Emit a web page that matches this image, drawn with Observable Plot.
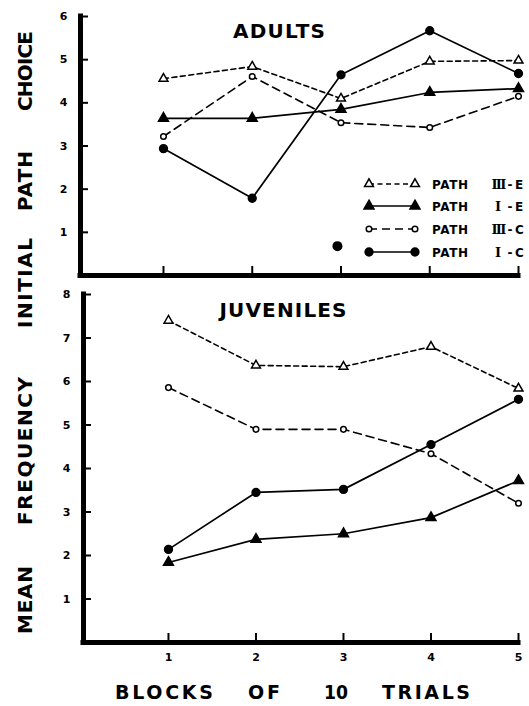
<!DOCTYPE html>
<html><head><meta charset="utf-8">
<script src="https://cdn.jsdelivr.net/npm/d3@7"></script>
<script src="https://cdn.jsdelivr.net/npm/@observablehq/plot@0.6"></script>
<style>
html,body{margin:0;padding:0;background:#fff;}
#wrap{position:relative;width:529px;height:706px;overflow:hidden;font-family:"DejaVu Sans",Arial,sans-serif;}
#wrap > svg, #wrap > figure{position:absolute;left:0;margin:0;}
</style></head><body><div id="wrap"></div>
<script>
// ---------- data ----------
const blocks = [1, 2, 3, 4, 5];
const seriesKeys = ["IIIE", "IE", "IIIC", "IC"];
const seriesNumeral = ["III", "I", "III", "I"];
const seriesLetter = ["E", "E", "C", "C"];

const adultsIIIE = [4.56, 4.84, 4.10, 4.96, 4.98];
const adultsIE   = [3.64, 3.64, 3.85, 4.24, 4.33];
const adultsIIIC = [3.22, 4.61, 3.54, 3.43, 4.15];
const adultsIC   = [2.94, 1.79, 4.65, 5.67, 4.68];

const juvIIIE = [7.40, 6.37, 6.34, 6.80, 5.84];
const juvIE   = [1.84, 2.37, 2.50, 2.87, 3.72];
const juvIIIC = [5.86, 4.90, 4.90, 4.34, 3.20];
const juvIC   = [2.14, 3.45, 3.52, 4.55, 5.59];

const adultsYTicks = [1, 2, 3, 4, 5, 6];
const juvYTicks = [1, 2, 3, 4, 5, 6, 7, 8];
const inkSpotBlock = [2.96];
const inkSpotValue = [0.68];

const panelTitles = ["ADULTS", "JUVENILES"];
const yTitleWords = ["CHOICE", "PATH", "INITIAL", "FREQUENCY", "MEAN"];
const xTitleWords = ["BLOCKS", "OF", "10", "TRIALS"];

// ---------- styles ----------
const styles = {
  IIIE: {symbol: "triangle", r: 3.3, fill: "white", dash: "5,3.5", sw: 1.6},
  IE:   {symbol: "triangle", r: 3.7, fill: "black", dash: null, sw: 1.7},
  IIIC: {symbol: "circle",   r: 2.8, fill: "white", dash: "8,5", sw: 1.6},
  IC:   {symbol: "circle",   r: 3.9, fill: "black", dash: null, sw: 1.7}
};
const FONT = "DejaVu Sans, Arial, sans-serif";

function panel({series, yMax, yTicks, x0, marginLeft, top, height, marginTop, marginBottom, xLabels, extra = []}) {
  const marks = [];
  seriesKeys.forEach((k, si) => {
    const rows = blocks.map((b, i) => ({block: b, value: series[si][i]}));
    const s = styles[k];
    marks.push(Plot.line(rows, {x: "block", y: "value", stroke: "black", strokeWidth: s.sw, strokeDasharray: s.dash}));
  });
  seriesKeys.forEach((k, si) => {
    const rows = blocks.map((b, i) => ({block: b, value: series[si][i]}));
    const s = styles[k];
    marks.push(Plot.dot(rows, {x: "block", y: "value", symbol: s.symbol, r: s.r, fill: s.fill, stroke: "black", strokeWidth: 1.5}));
  });
  const chart = Plot.plot({
    width: 529, height, marginTop, marginBottom, marginLeft, marginRight: 11,
    style: {background: "transparent", overflow: "visible", fontFamily: FONT, color: "black"},
    x: {domain: [x0, 5], axis: null, label: null},
    y: {domain: [0, yMax], axis: null, label: null},
    marks: [
      Plot.axisY(yTicks, {tickSize: 8, dx: 8, strokeWidth: 2, text: null, label: null}),
      Plot.axisY(yTicks, {tickSize: 0, tickPadding: 13, fontSize: 11, fontWeight: "bold", label: null}),
      Plot.axisX(blocks, {tickSize: 9, dy: -9, strokeWidth: 2, text: null, label: null}),
      ...(xLabels ? [Plot.axisX(blocks, {tickSize: 0, tickPadding: 11, fontSize: 11, fontWeight: "bold", label: null})] : []),
      Plot.ruleX([x0], {strokeWidth: 5, strokeLinecap: "square"}),
      Plot.ruleY([0], {strokeWidth: 5, strokeLinecap: "square"}),
      ...extra,
      ...marks
    ]
  });
  chart.style.top = top + "px";
  return chart;
}

const wrap = document.getElementById("wrap");

const inkRows = inkSpotBlock.map((b, i) => ({block: b, value: inkSpotValue[i]}));
wrap.appendChild(panel({
  series: [adultsIIIE, adultsIE, adultsIIIC, adultsIC],
  yMax: 6, yTicks: adultsYTicks, x0: 0.065, marginLeft: 80,
  top: 0, height: 290, marginTop: 16, marginBottom: 15, xLabels: false,
  extra: [Plot.dot(inkRows, {x: "block", y: "value", r: 5, fill: "black"})]
}));
wrap.appendChild(panel({
  series: [juvIIIE, juvIE, juvIIIC, juvIC],
  yMax: 8, yTicks: juvYTicks, x0: 0.029, marginLeft: 83,
  top: 280, height: 426, marginTop: 14, marginBottom: 64, xLabels: true
}));

// ---------- overlay: titles, axis titles, legend ----------
const svg = d3.select(wrap).append("svg")
  .attr("width", 529).attr("height", 706)
  .style("top", "0px").style("pointer-events", "none")
  .attr("font-family", FONT).attr("font-weight", "bold");

const titlePos = [{x: 279, y: 38, len: 92}, {x: 283, y: 317, len: 127}];
panelTitles.forEach((t, i) => {
  svg.append("text").attr("x", titlePos[i].x).attr("y", titlePos[i].y)
    .attr("text-anchor", "middle").attr("font-size", 20)
    .attr("textLength", titlePos[i].len).text(t);
});

const yWordPos = [{c: 71, len: 80}, {c: 181, len: 60}, {c: 283, len: 90}, {c: 451, len: 148}, {c: 600, len: 68}];
yTitleWords.forEach((w, i) => {
  svg.append("text")
    .attr("transform", `translate(32,${yWordPos[i].c}) rotate(-90)`)
    .attr("text-anchor", "middle").attr("font-size", 20)
    .attr("textLength", yWordPos[i].len).text(w);
});

const xWordPos = [{c: 164, len: 98, adj: "spacing"}, {c: 264, len: 32, adj: "spacing"}, {c: 336, len: 24, adj: "spacingAndGlyphs"}, {c: 426, len: 88, adj: "spacing"}];
xTitleWords.forEach((w, i) => {
  svg.append("text").attr("x", xWordPos[i].c).attr("y", 699)
    .attr("text-anchor", "middle").attr("font-size", 19)
    .attr("textLength", xWordPos[i].len).attr("lengthAdjust", xWordPos[i].adj).text(w);
});

// legend
const legendRows = [184, 206, 229, 252];
const sym = {triangle: d3.symbolTriangle, circle: d3.symbolCircle};
seriesKeys.forEach((k, i) => {
  const s = styles[k];
  const y = legendRows[i];
  const g = svg.append("g");
  g.append("line").attr("x1", 369).attr("x2", 415).attr("y1", y).attr("y2", y)
    .attr("stroke", "black").attr("stroke-width", s.sw).attr("stroke-dasharray", s.dash);
  [369, 415].forEach(x => {
    g.append("path").attr("d", d3.symbol(sym[s.symbol], s.r * s.r * Math.PI)())
      .attr("transform", `translate(${x},${y})`)
      .attr("fill", s.fill).attr("stroke", "black").attr("stroke-width", 1.5);
  });
  g.append("text").attr("x", 432).attr("y", y + 4.5).attr("font-size", 12).attr("textLength", 36).text("PATH");
  g.append("text").attr("x", 498).attr("y", y + 4.5).attr("font-size", 13)
    .attr("font-family", "DejaVu Serif, Liberation Serif, serif").attr("text-anchor", "middle")
    .attr("letter-spacing", seriesNumeral[i] === "III" ? -1.8 : 0).text(seriesNumeral[i]);
  g.append("text").attr("x", 510).attr("y", y + 4.5).attr("font-size", 12).attr("text-anchor", "middle").text("-");
  g.append("text").attr("x", 515).attr("y", y + 4.5).attr("font-size", 12).text(seriesLetter[i]);
});
</script></body></html>
